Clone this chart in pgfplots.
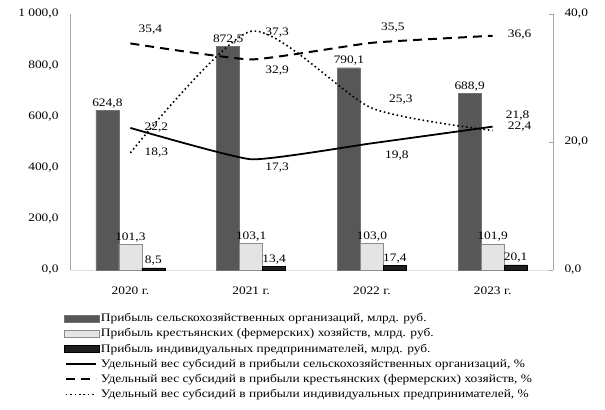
\documentclass[border=0pt]{standalone}
\usepackage{fontspec}
\setmainfont{Liberation Serif}[FakeStretch=1.17]
\usepackage{pgfplots}
\pgfplotsset{compat=1.18}

\definecolor{bardark}{HTML}{575757}
\definecolor{barlight}{HTML}{E4E4E4}
\definecolor{barblack}{HTML}{1E1E1E}
\definecolor{axgray}{HTML}{A6A6A6}

\newcommand{\chartfont}{\fontsize{11.5}{13.8}\selectfont}
\tikzset{
  numfmt/.style={/pgf/number format/fixed, /pgf/number format/fixed zerofill,
    /pgf/number format/precision=1, /pgf/number format/use comma,
    /pgf/number format/1000 sep={\ }, /pgf/number format/assume math mode=true},
}
\pgfplotsset{
  base/.style={scale only axis, width=483bp, height=256bp,
    xmin=-0.5, xmax=3.5, font=\chartfont},
  barimg/.style={legend image code/.code={\draw[##1] (0bp,-3.5bp) rectangle (35bp,3.5bp);}},
  lineimg/.style={legend image code/.code={\draw[##1] (2bp,0bp) -- (32bp,0bp);}},
}

\begin{document}
\begin{tikzpicture}
\useasboundingbox (-70bp,-140bp) rectangle (535bp,270bp);

% left axis: profit, bln rub
\begin{axis}[base, at={(0,0)}, anchor=south west,
  ybar=0pt, bar width=23bp,
  ymin=0, ymax=1000, ytick={0,200,...,1000},
  axis x line*=bottom, axis y line*=left,
  axis line style={-}, x axis line style={draw=black!12, line width=1pt},
  y axis line style={draw=axgray},
  major tick length=0pt,
  xtick=data, xticklabels={2020 г.,2021 г.,2022 г.,2023 г.},
  xticklabel style={yshift=-13bp},
  yticklabel style={numfmt, xshift=-8bp},
  nodes near coords, every node near coord/.append style={numfmt, font=\chartfont, inner sep=2pt},
  legend style={at={(-0.02,-0.153)}, anchor=north west, draw=none, fill=none,
    font=\chartfont, row sep=1.6pt,
    /tikz/every even column/.append style={column sep=0pt}},
  legend cell align=left,
]
\addplot[barimg, draw=black!55, fill=bardark] coordinates {(0,624.8) (1,872.5) (2,790.1) (3,688.9)};
\addplot[barimg, draw=black!45, fill=barlight] coordinates {(0,101.3) (1,103.1) (2,103.0) (3,101.9)};
\addplot[barimg, draw=black, fill=barblack] coordinates {(0,8.5) (1,13.4) (2,17.4) (3,20.1)};
\addlegendimage{lineimg, black, line width=1.8pt}
\addlegendimage{lineimg, black, line width=2pt, dash pattern=on 9bp off 6bp}
\addlegendimage{lineimg, black, line width=1.6pt, dash pattern=on 1.6bp off 2.8bp}
\legend{{Прибыль сельскохозяйственных организаций, млрд. руб.},
  {Прибыль крестьянских (фермерских) хозяйств, млрд. руб.},
  {Прибыль индивидуальных предпринимателей, млрд. руб.},
  {Удельный вес субсидий в прибыли сельскохозяйственных организаций, \%},
  {Удельный вес субсидий в прибыли крестьянских (фермерских) хозяйств, \%},
  {Удельный вес субсидий в прибыли индивидуальных предпринимателей, \%}}
\end{axis}

% right axis: share of subsidies, %
\begin{axis}[base, at={(0,0)}, anchor=south west,
  ymin=0, ymax=40, ytick={0,20,40},
  axis x line=none, axis y line*=right,
  axis line style={-, draw=axgray}, ytick style={draw=axgray},
  major tick length=4bp,
  yticklabel style={numfmt, xshift=8bp},
  nodes near coords, point meta=y,
  visualization depends on={value \thisrow{dx} \as \labdx},
  visualization depends on={value \thisrow{dy} \as \labdy},
  every node near coord/.append style={numfmt, anchor=center, xshift=\labdx bp, yshift=\labdy bp, font=\chartfont},
  smooth,
]
\addplot[black, line width=1.8pt, tension=0.25] table {
x y dx dy
0 22.2 26 0
1 17.3 26 -8
2 19.8 25 -12
3 22.4 27 0
};
\addplot[black, line width=2pt, dash pattern=on 9bp off 6bp, tension=0.25] table {
x y dx dy
0 35.4 20 14
1 32.9 26 -11
2 35.5 21 15
3 36.6 27 1
};
\addplot[black, line width=1.6pt, dash pattern=on 1.6bp off 2.8bp, tension=0.4] table {
x y dx dy
0 18.3 26 0
1 37.3 26 -1
2 25.3 29 8
3 21.8 25 15
};
\end{axis}
\end{tikzpicture}
\end{document}
